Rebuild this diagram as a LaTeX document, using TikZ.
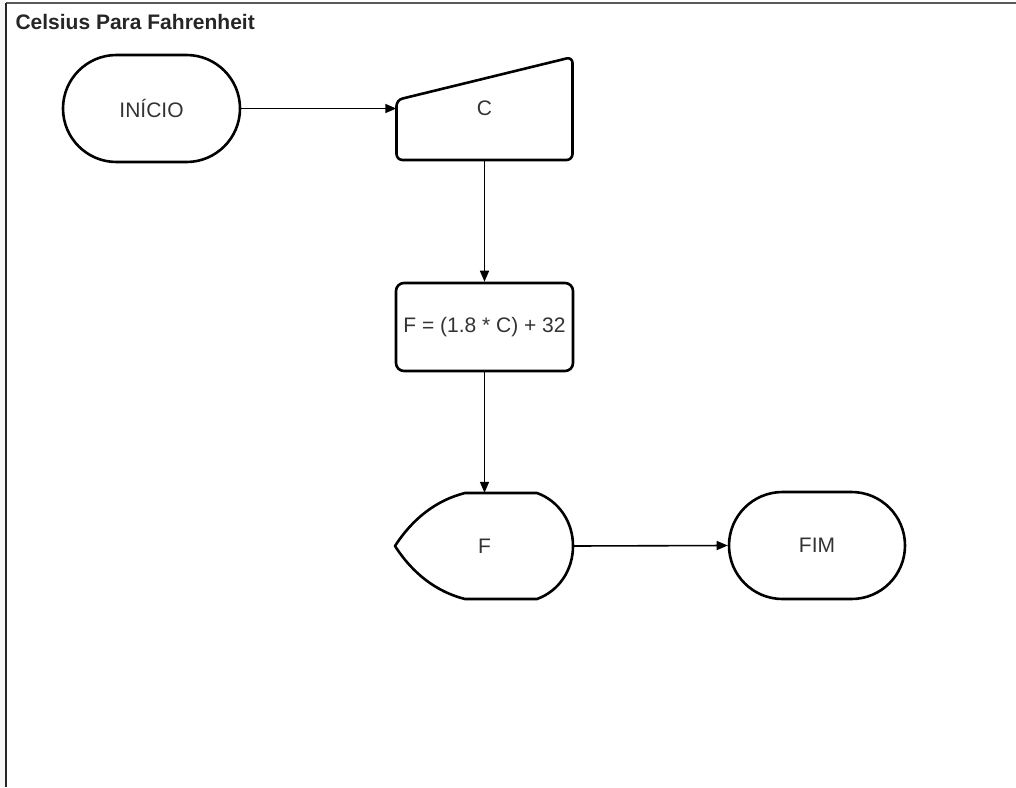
\documentclass[tikz,border=0pt]{standalone}
\usepackage{fontspec}
\setmainfont{Liberation Sans}
\usetikzlibrary{shapes.misc,arrows.meta}
\begin{document}
\begin{tikzpicture}[x=1pt,y=-1pt,
  txt/.style={font=\fontsize{21}{25}\selectfont, text=black!80},
  term/.style={rounded rectangle, draw, line width=2.6pt, minimum width=177pt, minimum height=107pt, inner sep=0pt, txt},
  proc/.style={rectangle, rounded corners=8pt, draw, line width=2.6pt, minimum width=177pt, minimum height=88pt, inner sep=0pt, txt},
  plainbox/.style={minimum width=176pt, minimum height=104pt, inner sep=0pt, txt},
  outline/.style={line width=2.6pt, line join=round},
  arr/.style={-{Triangle[length=11pt,width=9pt]}, line width=1.6pt},
  frame/.style={line width=1.8pt}
]
\useasboundingbox (0,0) rectangle (1016,787);
\fill[black!3] (0,0) rectangle (6,787);
\draw[frame, black!65] (6,3) -- (1016,3);
\draw[frame, black!85] (6,3) -- (6,787);

\node[anchor=base west, font=\bfseries\fontsize{21}{25}\selectfont, text=black!85] (title) at (12,29) {Celsius Para Fahrenheit};

\node[term] (inicio) at (151.5,108.5) {INÍCIO};

\node[plainbox, minimum height=103pt] (c) at (484.5,108.5) {C};
\draw[outline, rounded corners=6pt] (396.5,160) -- (396.5,100) -- (572.5,57) -- (572.5,160) -- cycle;

\node[proc] (p) at (484.5,327) {F = (1.8 * C) + 32};

\node[plainbox, minimum height=106pt] (d) at (484.5,546) {F};
\draw[outline] (465,493) -- (537,493)
  .. controls (559,501) and (573,522) .. (573,546)
  .. controls (573,570) and (559,591) .. (537,599)
  -- (465,599)
  .. controls (437,592) and (413,574) .. (395,546)
  .. controls (413,518) and (437,500) .. (465,493) -- cycle;

\node[term, minimum width=176pt] (fim) at (817,545.5) {FIM};

\draw[arr] (inicio.east) -- (c.west);
\draw[arr] (c.south) -- (p.north);
\draw[arr] (p.south) -- (d.north);
\draw[arr] (d.east) -- (fim.west);
\end{tikzpicture}
\end{document}
